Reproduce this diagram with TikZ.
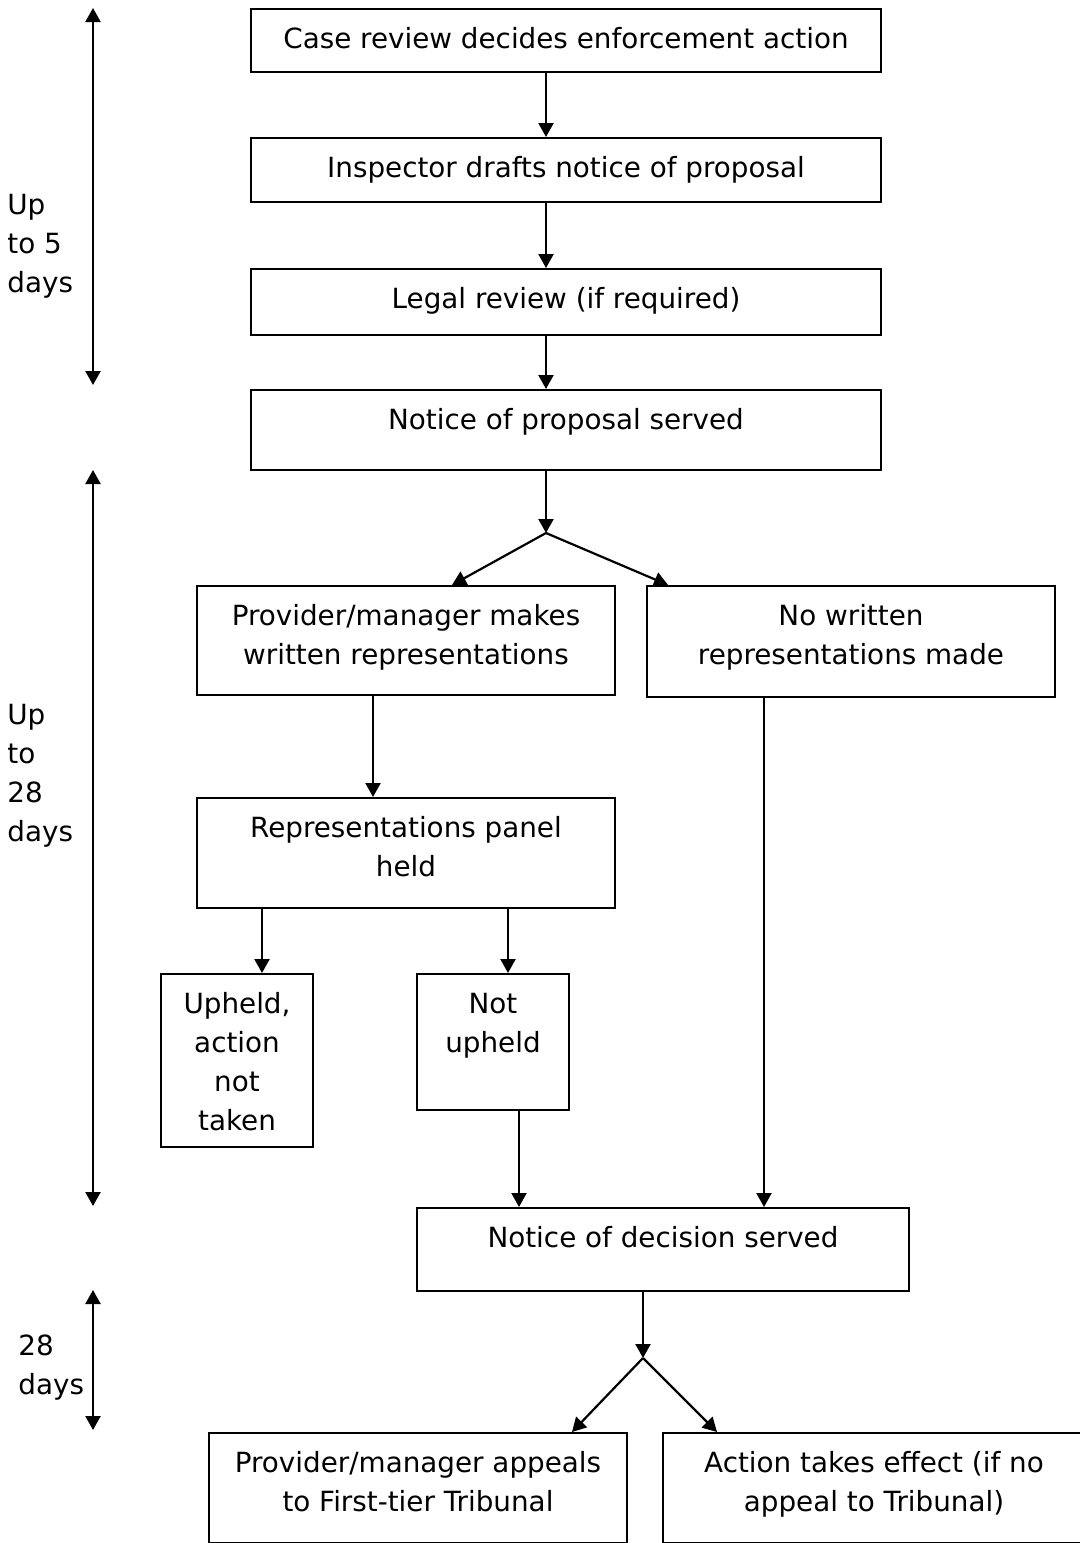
\documentclass[tikz,border=0pt]{standalone}
\usepackage{fontspec}
\setmainfont{DejaVu Sans}
\usetikzlibrary{arrows.meta}

\newcommand{\boxtext}[3]{\parbox[t][#2][t]{#1}{\centering\vspace*{5.8pt}\strut #3}}
\newcommand{\sidetext}[1]{\parbox[t]{3cm}{\raggedright\strut #1}}

\begin{document}
\begin{tikzpicture}[x=0.5pt,y=-0.5pt,
        font=\fontsize{13.9pt}{19.5pt}\selectfont,
        box/.style={draw,line width=1.1pt,inner sep=0pt,anchor=north},
        side/.style={inner sep=0pt,anchor=north west},
        arr/.style={line width=1.1pt,-{Triangle[length=7pt,width=7.5pt]}},
        span/.style={line width=1.1pt,{Triangle[length=7pt,width=7.5pt]}-{Triangle[length=7pt,width=7.5pt]}}]
        \useasboundingbox (0,0) rectangle (1080,1543);

        % boxes
        \node[box] (case) at (566,8) {\boxtext{315pt}{31.5pt}{Case review decides enforcement action}};
        \node[box] (drafts) at (566,137) {\boxtext{315pt}{32pt}{Inspector drafts notice of proposal}};
        \node[box] (legal) at (566,268) {\boxtext{315pt}{33pt}{Legal review (if required)}};
        \node[box] (served) at (566,389) {\boxtext{315pt}{40pt}{Notice of proposal served}};
        \node[box] (reps) at (406,585) {\boxtext{209pt}{54.5pt}{Provider/manager makes\\written representations}};
        \node[box] (norep) at (851,585) {\boxtext{204pt}{55.5pt}{No written\\representations made}};
        \node[box] (panel) at (406,797) {\boxtext{209pt}{55pt}{Representations panel\\held}};
        \node[box] (upheld) at (237,973) {\boxtext{76pt}{86.5pt}{Upheld,\\action\\not\\taken}};
        \node[box] (notup) at (493,973) {\boxtext{76pt}{68pt}{Not\\upheld}};
        \node[box] (decision) at (663,1207) {\boxtext{246pt}{41.5pt}{Notice of decision served}};
        \node[box] (appeal) at (418,1432) {\boxtext{209pt}{55pt}{Provider/manager appeals\\to First-tier Tribunal}};
        \node[box] (effect) at (874,1432) {\boxtext{211pt}{55pt}{Action takes effect (if no\\appeal to Tribunal)}};

        \coordinate (fork1) at (546,533);
        \coordinate (fork2) at (643,1358);

        % connectors
        \draw[arr] ([xshift=-10pt]case.south) -- ([xshift=-10pt]drafts.north);
        \draw[arr] ([xshift=-10pt]drafts.south) -- ([xshift=-10pt]legal.north);
        \draw[arr] ([xshift=-10pt]legal.south) -- ([xshift=-10pt]served.north);
        \draw[arr] ([xshift=-10pt]served.south) -- (fork1);
        \draw[arr] (fork1) -- ([xshift=23pt]reps.north);
        \draw[arr] (fork1) -- ([xshift=-91.5pt]norep.north);
        \draw[arr] ([xshift=-16.5pt]reps.south) -- ([xshift=-16.5pt]panel.north);
        \draw[arr] ([xshift=-72pt]panel.south) -- ([xshift=12.5pt]upheld.north);
        \draw[arr] ([xshift=51pt]panel.south) -- ([xshift=7.5pt]notup.north);
        \draw[arr] ([xshift=13pt]notup.south) -- ([xshift=-72pt]decision.north);
        \draw[arr] ([xshift=-43.5pt]norep.south) -- ([xshift=50.5pt]decision.north);
        \draw[arr] ([xshift=-10pt]decision.south) -- (fork2);
        \draw[arr] (fork2) -- ([xshift=77pt]appeal.north);
        \draw[arr] (fork2) -- ([xshift=-78.5pt]effect.north);

        % time spans
        \coordinate (span1a) at (93,8);
        \coordinate (span1b) at (93,385);
        \coordinate (span2a) at (93,470);
        \coordinate (span2b) at (93,1206);
        \coordinate (span3a) at (93,1290);
        \coordinate (span3b) at (93,1430);
        \draw[span] (span1a) -- (span1b);
        \draw[span] (span2a) -- (span2b);
        \draw[span] (span3a) -- (span3b);
        \node[side] (days5) at (7,187) {\sidetext{Up\\to 5\\days}};
        \node[side] (days28a) at (7,697) {\sidetext{Up\\to\\28\\days}};
        \node[side] (days28b) at (18,1328) {\sidetext{28\\days}};
\end{tikzpicture}
\end{document}
